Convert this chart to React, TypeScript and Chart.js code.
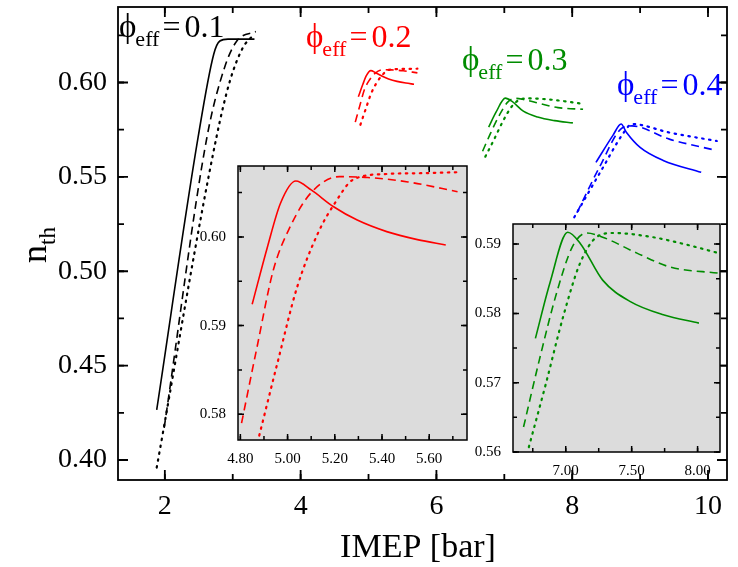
import React, { useEffect, useRef } from "react";
import { Chart, registerables } from "chart.js";
Chart.register(...registerables);

type P = [number, number];
// phi_eff = 0.1 (black)
const k1Solid: P[] = [[1.88, 0.4265], [2.49, 0.571], [2.72, 0.615], [2.81, 0.622], [2.93, 0.623], [3.32, 0.623]];
const k1Dash: P[] = [[1.99, 0.417], [2.62, 0.571], [2.88, 0.608], [3.06, 0.622], [3.34, 0.627]];
const k1Dot: P[] = [[1.88, 0.396], [2.76, 0.571], [2.96, 0.601], [3.15, 0.6185], [3.30, 0.625]];
// phi_eff = 0.2 (red)
const r2Solid: P[] = [[4.85, 0.5924], [4.915, 0.5989], [4.97, 0.6038], [5.035, 0.6063], [5.10, 0.6053], [5.195, 0.6034], [5.295, 0.6019], [5.42, 0.6006], [5.55, 0.5997], [5.67, 0.5991]];
const r2Dash: P[] = [[4.805, 0.579], [4.87, 0.5875], [4.94, 0.5963], [5.01, 0.6011], [5.10, 0.605], [5.22, 0.6068], [5.34, 0.6067], [5.51, 0.6062], [5.72, 0.6051]];
const r2Dot: P[] = [[4.88, 0.5776], [4.96, 0.5861], [5.04, 0.5943], [5.13, 0.6005], [5.20, 0.6038], [5.28, 0.6065], [5.42, 0.6071], [5.59, 0.6072], [5.72, 0.6073]];
// phi_eff = 0.3 (green)
const g3Solid: P[] = [[6.77, 0.5764], [6.88, 0.5844], [7.015, 0.5917], [7.11, 0.5901], [7.28, 0.5848], [7.49, 0.5817], [7.74, 0.5798], [8.01, 0.5786]];
const g3Dash: P[] = [[6.68, 0.5636], [6.80, 0.5733], [6.93, 0.5829], [7.05, 0.5896], [7.16, 0.5916], [7.28, 0.591], [7.54, 0.5887], [7.79, 0.5867], [8.16, 0.5858]];
const g3Dot: P[] = [[6.72, 0.5607], [6.85, 0.5699], [6.98, 0.5795], [7.11, 0.5873], [7.24, 0.5911], [7.36, 0.5916], [7.66, 0.591], [7.92, 0.5899], [8.14, 0.5888]];
// phi_eff = 0.4 (blue)
const b4Solid: P[] = [[8.35, 0.5577], [8.60, 0.572], [8.72, 0.578], [8.80, 0.5735], [9.0, 0.5656], [9.34, 0.5587], [9.90, 0.5524]];
const b4Dash: P[] = [[8.07, 0.531], [8.40, 0.555], [8.74, 0.576], [8.88, 0.577], [9.43, 0.570], [10.12, 0.564]];
const b4Dot: P[] = [[8.03, 0.5286], [8.43, 0.5535], [8.76, 0.5735], [8.88, 0.578], [9.43, 0.5735], [10.13, 0.569]];

const mainXTicks = [2, 4, 6, 8, 10];
const mainYTicks = [0.4, 0.45, 0.5, 0.55, 0.6];
const in1XTicks = [4.8, 5.0, 5.2, 5.4, 5.6];
const in1YTicks = [0.58, 0.59, 0.6];
const in2XTicks = [7.0, 7.5, 8.0];
const in2YTicks = [0.56, 0.57, 0.58, 0.59];

const labels = [
  { v: "0.1", color: "#000000", x: 119, y: 37 },
  { v: "0.2", color: "#ff0000", x: 306, y: 47 },
  { v: "0.3", color: "#008c00", x: 462, y: 70 },
  { v: "0.4", color: "#0000ff", x: 617, y: 95 },
];

const SERIF = "'Liberation Serif', 'DejaVu Serif', serif";
const styles = { solid: [] as number[], dash: [8, 5], dot: [1.5, 5.5] };

function ds(pts: P[], color: string, kind: "solid" | "dash" | "dot") {
  return {
    data: pts.map(([x, y]) => ({ x, y })),
    borderColor: color,
    borderWidth: kind === "dot" ? 2.2 : 1.6,
    borderDash: styles[kind],
    borderCapStyle: kind === "dot" ? "round" : "butt",
    pointRadius: 0,
    fill: false,
    cubicInterpolationMode: "monotone",
  };
}

const framePlugin = {
  id: "frame",
  beforeDatasetsDraw(chart: any, _a: any, o: any) {
    const { ctx, chartArea: a } = chart;
    if (o.bg) {
      ctx.save();
      ctx.fillStyle = o.bg;
      ctx.fillRect(a.left, a.top, a.right - a.left, a.bottom - a.top);
      ctx.restore();
    }
  },
  afterDatasetsDraw(chart: any, _a: any, o: any) {
    const { ctx, chartArea: a } = chart;
    const xs = chart.scales.x, ys = chart.scales.y;
    ctx.save();
    ctx.strokeStyle = "#000";
    ctx.lineWidth = o.lw;
    const ticks = (min: number, max: number, step: number, len: number, horiz: boolean) => {
      const n0 = Math.ceil(min / step - 1e-6), n1 = Math.floor(max / step + 1e-6);
      for (let i = n0; i <= n1; i++) {
        const v = i * step;
        if (horiz) {
          const p = xs.getPixelForValue(v);
          ctx.beginPath();
          ctx.moveTo(p, a.bottom); ctx.lineTo(p, a.bottom - len);
          ctx.moveTo(p, a.top); ctx.lineTo(p, a.top + len);
          ctx.stroke();
        } else {
          const p = ys.getPixelForValue(v);
          ctx.beginPath();
          ctx.moveTo(a.left, p); ctx.lineTo(a.left + len, p);
          ctx.moveTo(a.right, p); ctx.lineTo(a.right - len, p);
          ctx.stroke();
        }
      }
    };
    ticks(xs.min, xs.max, o.xMinor, o.minLen, true);
    ticks(xs.min, xs.max, o.xMajor, o.majLen, true);
    ticks(ys.min, ys.max, o.yMinor, o.minLen, false);
    ticks(ys.min, ys.max, o.yMajor, o.majLen, false);
    ctx.strokeRect(a.left, a.top, a.right - a.left, a.bottom - a.top);
    ctx.restore();
  },
};

const textPlugin = {
  id: "texts",
  afterDraw(chart: any, _a: any, o: any) {
    if (!o.on) return;
    const ctx = chart.ctx;
    ctx.save();
    ctx.textBaseline = "alphabetic";
    for (const l of labels) {
      ctx.fillStyle = l.color;
      ctx.font = `33px ${SERIF}`;
      ctx.textAlign = "left";
      ctx.fillText("ϕ", l.x, l.y);
      let x = l.x + ctx.measureText("ϕ").width - 1;
      ctx.font = `22px ${SERIF}`;
      ctx.fillText("eff", x, l.y + 9);
      x += ctx.measureText("eff").width + 3;
      ctx.font = `32px ${SERIF}`;
      ctx.fillText("=", x, l.y);
      x += ctx.measureText("=").width + 4;
      ctx.fillText(l.v, x, l.y);
    }
    ctx.fillStyle = "#000";
    ctx.font = `34px ${SERIF}`;
    ctx.textAlign = "center";
    ctx.fillText("IMEP [bar]", 418, 557);
    ctx.translate(46, 245);
    ctx.rotate(-Math.PI / 2);
    ctx.textAlign = "left";
    ctx.font = `36px ${SERIF}`;
    const wn = ctx.measureText("n").width;
    ctx.font = `23px ${SERIF}`;
    const wt = ctx.measureText("th").width;
    const x0 = -(wn + wt) / 2;
    ctx.font = `36px ${SERIF}`;
    ctx.fillText("n", x0, 0);
    ctx.font = `23px ${SERIF}`;
    ctx.fillText("th", x0 + wn, 9);
    ctx.restore();
  },
};

interface Spec {
  left: number; top: number; w: number; h: number;
  area: [number, number, number, number];
  xr: [number, number]; yr: [number, number];
  xt: number[]; yt: number[]; xDec: number; yDec: number;
  font: number; datasets: any[];
  frame: any; bg?: string; texts?: boolean; xPad: number; yPad: number;
}

function Plot({ s }: { s: Spec }) {
  const ref = useRef<HTMLCanvasElement>(null);
  useEffect(() => {
    const [al, at, ar, ab] = s.area;
    const chart = new Chart(ref.current!, {
      type: "line",
      data: { datasets: s.datasets },
      plugins: [framePlugin, textPlugin],
      options: {
        animation: false,
        responsive: false,
        maintainAspectRatio: false,
        layout: { padding: { left: 0, top: at, right: s.w - ar, bottom: 0 } },
        plugins: {
          legend: { display: false },
          tooltip: { enabled: false },
          frame: { ...s.frame, bg: s.bg },
          texts: { on: !!s.texts },
        } as any,
        scales: {
          x: {
            type: "linear", min: s.xr[0], max: s.xr[1],
            grid: { display: false }, border: { display: false },
            afterFit: (sc: any) => { sc.height = s.h - ab; sc.paddingLeft = 0; sc.paddingRight = 0; },
            afterBuildTicks: (sc: any) => { sc.ticks = s.xt.map((v) => ({ value: v })); },
            ticks: { color: "#000", font: { family: SERIF, size: s.font }, padding: s.xPad, maxRotation: 0, autoSkip: false,
              callback: (v: any) => (s.xDec ? Number(v).toFixed(s.xDec) : String(v)) },
          },
          y: {
            type: "linear", min: s.yr[0], max: s.yr[1],
            grid: { display: false }, border: { display: false },
            afterFit: (sc: any) => { sc.width = al; sc.paddingTop = 0; sc.paddingBottom = 0; },
            afterBuildTicks: (sc: any) => { sc.ticks = s.yt.map((v) => ({ value: v })); },
            ticks: { color: "#000", font: { family: SERIF, size: s.font }, padding: s.yPad, autoSkip: false,
              callback: (v: any) => Number(v).toFixed(s.yDec) },
          },
        },
      } as any,
    });
    return () => chart.destroy();
  }, []);
  return (
    <canvas ref={ref} width={s.w} height={s.h}
      style={{ position: "absolute", left: s.left, top: s.top, width: s.w, height: s.h }} />
  );
}

const RED = "#ff0000", GREEN = "#008c00", BLUE = "#0000ff", BLACK = "#000000";

const mainSpec: Spec = {
  left: 0, top: 0, w: 738, h: 567, area: [118, 7, 727, 480],
  xr: [1.31, 10.28], yr: [0.3894, 0.64], xt: mainXTicks, yt: mainYTicks, xDec: 0, yDec: 2,
  font: 28, xPad: 2, yPad: 3, texts: true,
  frame: { xMajor: 2, xMinor: 1, yMajor: 0.05, yMinor: 0.025, majLen: 10, minLen: 6, lw: 1.8 },
  datasets: [
    ds(k1Solid, BLACK, "solid"), ds(k1Dash, BLACK, "dash"), ds(k1Dot, BLACK, "dot"),
    ds(r2Solid, RED, "solid"), ds(r2Dash, RED, "dash"), ds(r2Dot, RED, "dot"),
    ds(g3Solid, GREEN, "solid"), ds(g3Dash, GREEN, "dash"), ds(g3Dot, GREEN, "dot"),
    ds(b4Solid, BLUE, "solid"), ds(b4Dash, BLUE, "dash"), ds(b4Dot, BLUE, "dot"),
  ],
};

const in1Spec: Spec = {
  left: 190, top: 160, w: 285, h: 310, area: [48, 6, 277, 280],
  xr: [4.79, 5.76], yr: [0.5771, 0.6080], xt: in1XTicks, yt: in1YTicks, xDec: 2, yDec: 2,
  font: 15, xPad: 2, yPad: 4, bg: "#dcdcdc",
  frame: { xMajor: 0.2, xMinor: 0.1, yMajor: 0.01, yMinor: 0.005, majLen: 6, minLen: 4, lw: 1.5 },
  datasets: [ds(r2Solid, RED, "solid"), ds(r2Dash, RED, "dash"), ds(r2Dot, RED, "dot")],
};

const in2Spec: Spec = {
  left: 460, top: 215, w: 270, h: 265, area: [53, 9, 260, 237],
  xr: [6.6, 8.17], yr: [0.56, 0.5929], xt: in2XTicks, yt: in2YTicks, xDec: 2, yDec: 2,
  font: 15, xPad: 2, yPad: 4, bg: "#dcdcdc",
  frame: { xMajor: 0.5, xMinor: 0.25, yMajor: 0.01, yMinor: 0.005, majLen: 6, minLen: 4, lw: 1.5 },
  datasets: [ds(g3Solid, GREEN, "solid"), ds(g3Dash, GREEN, "dash"), ds(g3Dot, GREEN, "dot")],
};

export default function App() {
  useEffect(() => { document.body.style.margin = "0"; }, []);
  return (
    <div style={{ position: "relative", width: 738, height: 567, background: "#fff" }}>
      <Plot s={mainSpec} />
      <Plot s={in1Spec} />
      <Plot s={in2Spec} />
    </div>
  );
}
